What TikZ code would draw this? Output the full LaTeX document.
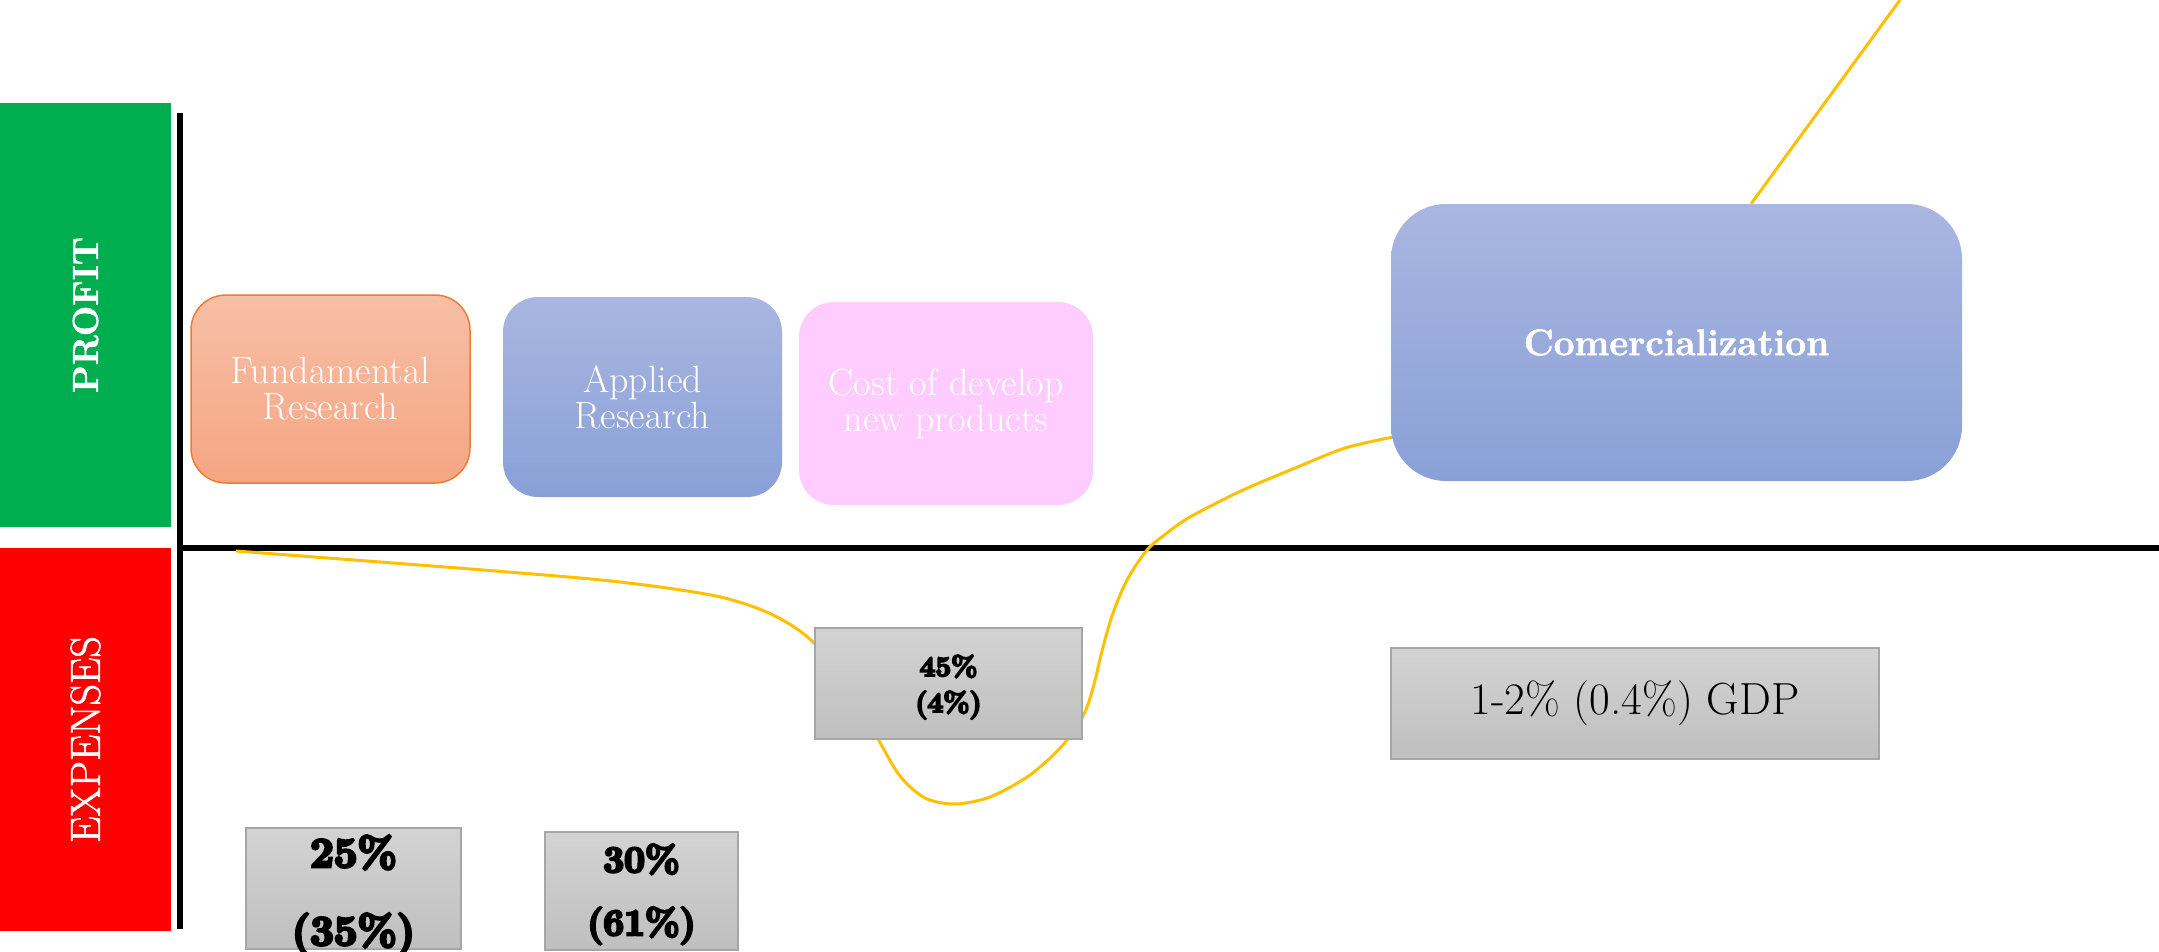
\documentclass[tikz,border=0pt]{standalone}
\usepackage{fontspec}
\newfontfamily\heavyfont[FakeBold=7]{Latin Modern Roman}
\newfontfamily\semifont[FakeBold=1.5]{Latin Modern Roman}
\usetikzlibrary{calc}
\definecolor{pgreen}{HTML}{00AE4F}
\definecolor{pred}{HTML}{FF0000}
\definecolor{orTop}{HTML}{F7BFA7}
\definecolor{orBot}{HTML}{F5A582}
\definecolor{orLine}{HTML}{ED7D31}
\definecolor{blTop}{HTML}{A9B6E0}
\definecolor{blBot}{HTML}{89A0D7}
\definecolor{pink}{HTML}{FFCCFF}
\definecolor{gyTop}{HTML}{D3D3D3}
\definecolor{gyBot}{HTML}{BFBFBF}
\definecolor{gyLine}{HTML}{A6A6A6}
\definecolor{curveY}{HTML}{FFC000}
\tikzset{
  side/.style={inner sep=0pt, text=white},
  stagebox/.style={rounded corners=35pt, inner sep=0pt, text=white, align=center,
     font=\fontsize{38}{36}\selectfont},
  bluebox/.style={stagebox, top color=blTop, bottom color=blBot, draw=none},
  graybox/.style={draw=gyLine, line width=2pt, top color=gyTop, bottom color=gyBot, inner sep=0pt},
  pct/.style={inner sep=0pt, align=center, text=black},
  axis/.style={line width=6pt, black},
  trend/.style={curveY, line width=3pt}
}
\begin{document}
\begin{tikzpicture}[x=1pt,y=-1pt]
\useasboundingbox (0,0) rectangle (2159,951);
% side bars
\node[side, fill=pgreen, minimum width=171, minimum height=424] (profit) at (85.5,315)
  {\rotatebox{90}{\fontsize{36}{36}\selectfont\semifont\bfseries PROFIT}};
\node[side, fill=pred, minimum width=171, minimum height=383] (expenses) at (85.5,739.5)
  {\rotatebox{90}{\fontsize{42}{42}\selectfont\semifont EXPENSES}};
% axes
\coordinate (vtop) at (180,113);
\coordinate (vbot) at (180,929);
\coordinate (origin) at (180,548);
\coordinate (hend) at (2159,548);
\draw[axis] (vtop) -- (vbot);
\draw[axis] ([xshift=-3pt]origin) -- (hend);
% curve
\coordinate (cstart) at (236,551);
\coordinate (cend) at (1393,437);
\draw[trend] plot[smooth, tension=0.5] coordinates {
 (cstart) (496,571) (620,582) (716,596) (771,614) (812,641) (850,690) (878,739)
 (900,776) (925,798) (955,804) (990,797) (1030,775) (1062,746)
 (1083,716) (1093,688) (1103,647) (1113,613) (1127,580) (1147,550) (1167,533)
 (1190,517) (1243,490) (1300,466) (1345,448) (cend)};
% boxes
\node[stagebox, draw=orLine, line width=1.5pt, top color=orTop, bottom color=orBot,
  minimum width=279, minimum height=188] (fund) at (330.5,389) {Fundamental\\Research};
\node[bluebox, minimum width=279, minimum height=200] (appl) at (642.5,397) {Applied\\Research};
\node[stagebox, fill=pink, minimum width=294, minimum height=203] (cost) at (946,403.5)
  {Cost of develop\\new products};
\node[bluebox, rounded corners=55pt, minimum width=571, minimum height=277,
  font=\fontsize{37}{40}\selectfont\semifont\bfseries] (comm) at (1676.5,342.5) {Comercialization};
\coordinate (topend) at (1900,0);
\draw[trend] ([xshift=74.5pt]comm.north) -- (topend);
% gray boxes
\node[graybox, minimum width=267, minimum height=111] (b45) at (948.5,683.5) {};
\node[pct, font=\fontsize{28}{36}\selectfont\heavyfont\bfseries, anchor=base] (t45) at (948.5,712) {45\%\\(4\%)};
\node[graybox, minimum width=488, minimum height=111,
  font=\fontsize{45}{48}\selectfont] (gdp) at (1635,703.5) {1-2\% (0.4\%) GDP};
\node[graybox, minimum width=215, minimum height=121] (b25) at (353.5,888.5) {};
\node[pct, font=\fontsize{42}{78}\selectfont\heavyfont\bfseries, anchor=base] (t25) at (353.5,945) {25\%\\(35\%)};
\node[graybox, minimum width=193, minimum height=118] (b30) at (641.5,891) {};
\node[pct, font=\fontsize{37}{63}\selectfont\heavyfont\bfseries, anchor=base] (t30) at (641.5,935) {30\%\\(61\%)};
\end{tikzpicture}
\end{document}
